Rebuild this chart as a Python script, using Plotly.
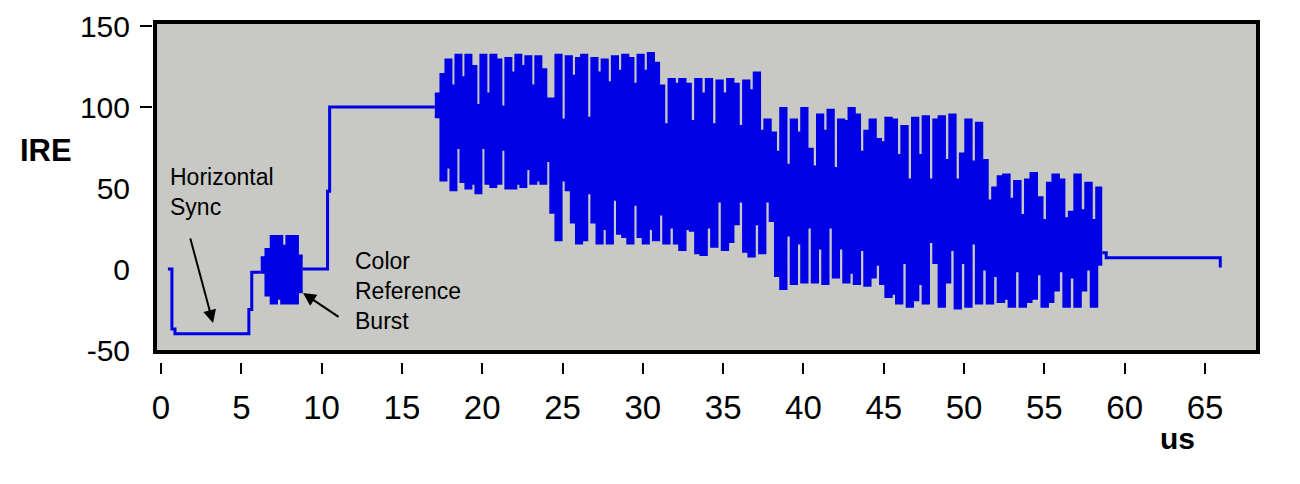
import numpy as np
import plotly.graph_objects as go

# ---------------- data (time in us, level in IRE) ----------------
# front porch + horizontal sync + breezeway (step levels)
sync_t = [0.43, 0.68, 0.87, 5.47, 5.65, 6.21]
sync_v = [0, -37, -40, -25, -2, -2]

# colour reference burst (envelope samples)
burst_span = [6.21, 8.82]
burst_top = [7, 12, 20, 20, 14, 20, 20, 8]
burst_bot = [-2, -16, -21, -18, -21, -21, -21, -14]

# back porch + white reference
blank_t = [8.82, 10.37, 10.50, 17.05]
blank_v = [0, 48, 100, 100]

# colour bars: segment boundaries and envelope samples (top / bottom)
bar_names = ["lead", "yellow", "cyan", "green", "magenta", "red", "blue"]
bar_edges = [17.05, 17.43, 24.27, 31.30, 37.93, 44.80, 51.10, 58.60]
lead_top = [108]
lead_bot = [94]
yellow_top = [120, 129, 113, 132, 118, 132, 125, 101, 132, 108, 132,
              129, 100, 130, 121, 132, 125, 131, 113, 131, 123, 105]
yellow_bot = [55, 63, 49, 75, 54, 50, 53, 47, 75, 53, 51,
              53, 74, 50, 50, 53, 51, 62, 53, 55, 53, 67]
cyan_top = [105, 132, 92, 131, 119, 130, 132, 93, 130, 121, 129,
            115, 131, 122, 132, 130, 114, 132, 122, 133, 127, 113]
cyan_bot = [35, 18, 55, 49, 29, 16, 18, 47, 29, 16, 25,
            16, 43, 22, 20, 16, 40, 20, 16, 25, 18, 34]
green_top = [89, 117, 114, 117, 114, 91, 117, 108, 117, 89,
             116, 108, 117, 114, 88, 116, 110, 121, 85, 92]
green_bot = [16, 26, 16, 12, 25, 24, 10, 9, 26, 14,
             42, 12, 17, 28, 42, 11, 8, 28, 10, 42]
magenta_top = [84, 72, 99, 64, 92, 84, 99, 74, 63, 95, 85,
               98, 62, 92, 91, 99, 95, 72, 85, 92, 80]
magenta_bot = [30, -4, -12, 21, -9, 16, -8, 26, -8, 13, -9,
               26, -5, 13, -8, -2, -9, 12, -10, -5, 3]
red_top = [78, 93, 92, 70, 88, 55, 93, 70, 94, 55,
           92, 94, 67, 95, 55, 71, 92, 66, 90]
red_bot = [-9, -17, -15, -21, 4, -23, -19, -9, -21, 17,
           4, -23, -8, 12, -24, 4, -23, 16, -21]
blue_top = [67, 42, 50, 57, 58, 43, 54, 33, 55, 59, 44,
            30, 53, 58, 55, 31, 35, 58, 36, 53, 30, 50]
blue_bot = [0, -21, -4, -20, -18, -23, -1, -23, -20, -18, -3,
            -23, -20, -13, -1, -23, -5, -23, -13, 0, -23, 3]
bar_tops = [lead_top, yellow_top, cyan_top, green_top, magenta_top, red_top, blue_top]
bar_bots = [lead_bot, yellow_bot, cyan_bot, green_bot, magenta_bot, red_bot, blue_bot]

# black-level tail of the line
tail_t = [58.60, 58.85, 65.60, 65.95]
tail_v = [10, 7, 7, 1]

x_ticks = list(range(0, 70, 5))
y_ticks = [-50, 0, 50, 100, 150]
y_dash_ticks = [100, 150]

# ---------------- figure ----------------
BLUE = "#0000E6"
SANS = "Liberation Sans, Arial, sans-serif"

fig = go.Figure()


def step_band(start, end, top, bot):
    n = len(top)
    xs = list(np.linspace(start, end, n + 1))
    return xs, list(top) + [top[-1]], list(bot) + [bot[-1]]


def add_band(xs, tops, bots):
    fig.add_trace(go.Scatter(x=xs, y=bots, mode="lines", line=dict(color=BLUE, width=3, shape="hv"),
                             hoverinfo="skip", showlegend=False))
    fig.add_trace(go.Scatter(x=xs, y=tops, mode="lines", line=dict(color=BLUE, width=3, shape="hv"),
                             fill="tonexty", fillcolor=BLUE, hoverinfo="skip", showlegend=False))


# step lines
for t, v in [(sync_t, sync_v), (blank_t, blank_v), (tail_t, tail_v)]:
    fig.add_trace(go.Scatter(x=t, y=v, mode="lines", line=dict(color=BLUE, width=3, shape="hv"),
                             hoverinfo="skip", showlegend=False))

# burst
bx, bt, bb = step_band(burst_span[0], burst_span[1], burst_top, burst_bot)
add_band(bx, bt, bb)

# colour bars (one continuous band)
all_x, all_t, all_b = [], [], []
for i in range(len(bar_tops)):
    n = len(bar_tops[i])
    xs = list(np.linspace(bar_edges[i], bar_edges[i + 1], n + 1))[:-1]
    all_x += xs
    all_t += bar_tops[i]
    all_b += bar_bots[i]
all_x.append(bar_edges[-1])
all_t.append(all_t[-1])
all_b.append(all_b[-1])
add_band(all_x, all_t, all_b)

# carrier trace for the dashed-tick axis (no visible marks)
fig.add_trace(go.Scatter(x=[None], y=[None], yaxis="y2", mode="lines", hoverinfo="skip", showlegend=False))

# plot border
fig.add_shape(type="rect", xref="x domain", yref="y domain", x0=0, x1=1, y0=0, y1=1,
              line=dict(color="black", width=4), layer="above")

# annotations
fig.add_annotation(x=0.44, y=47.5, xref="x", yref="y", text="Horizontal<br>Sync", showarrow=False,
                   xanchor="left", yanchor="middle", align="left", font=dict(family=SANS, size=23, color="black"))
fig.add_annotation(x=11.95, y=-13.6, xref="x", yref="y", text="Color<br>Reference<br>Burst", showarrow=False,
                   xanchor="left", yanchor="middle", align="left", font=dict(family=SANS, size=23, color="black"))
fig.add_annotation(x=3.24, y=-33.3, ax=1.8, ay=19.8, xref="x", yref="y", axref="x", ayref="y", text="",
                   showarrow=True, arrowhead=2, arrowsize=1.3, arrowwidth=2, arrowcolor="black", standoff=0)
fig.add_annotation(x=8.84, y=-14.8, ax=11.15, ay=-30.2, xref="x", yref="y", axref="x", ayref="y", text="",
                   showarrow=True, arrowhead=2, arrowsize=1.3, arrowwidth=2, arrowcolor="black", standoff=0)
fig.add_annotation(x=-0.0958, y=0.6206, xref="paper", yref="paper", text="<b>IRE</b>", showarrow=False,
                   xanchor="center", yanchor="middle", font=dict(family=SANS, size=31, color="black"))
fig.add_annotation(x=0.9268, y=-0.225, xref="paper", yref="paper", text="<b>us</b>", showarrow=False,
                   xanchor="center", yanchor="middle", font=dict(family=SANS, size=30, color="black"))

fig.update_layout(
    width=1300, height=484,
    margin=dict(l=144, r=50, t=14, b=130, autoexpand=False),
    paper_bgcolor="white", plot_bgcolor="#C8C8C4",
    showlegend=False,
    xaxis=dict(domain=[0.00271, 1], range=[-0.3736, 68.30], anchor="free", position=0, automargin=False,
               tickvals=x_ticks, ticktext=[str(v) for v in x_ticks],
               ticks="outside", ticklen=11, tickwidth=1.5, tickcolor="black",
               showline=False, showgrid=False, zeroline=False, ticklabelstandoff=5,
               tickfont=dict(family=SANS, size=33, color="black")),
    yaxis=dict(domain=[0.0294, 1], range=[-51.23, 152.47], anchor="free", position=0, automargin=False,
               tickvals=y_ticks, ticktext=[str(v) for v in y_ticks], ticks="",
               showline=False, showgrid=False, zeroline=False, ticklabelstandoff=22,
               tickfont=dict(family=SANS, size=30, color="black")),
    yaxis2=dict(domain=[0.0294, 1], range=[-51.23, 152.47], anchor="free", position=0, overlaying="y",
                automargin=False, tickvals=y_dash_ticks, ticks="outside", ticklen=12, tickwidth=2,
                tickcolor="black", showticklabels=False, showline=False, showgrid=False, zeroline=False),
)

fig.write_html("out.html")
